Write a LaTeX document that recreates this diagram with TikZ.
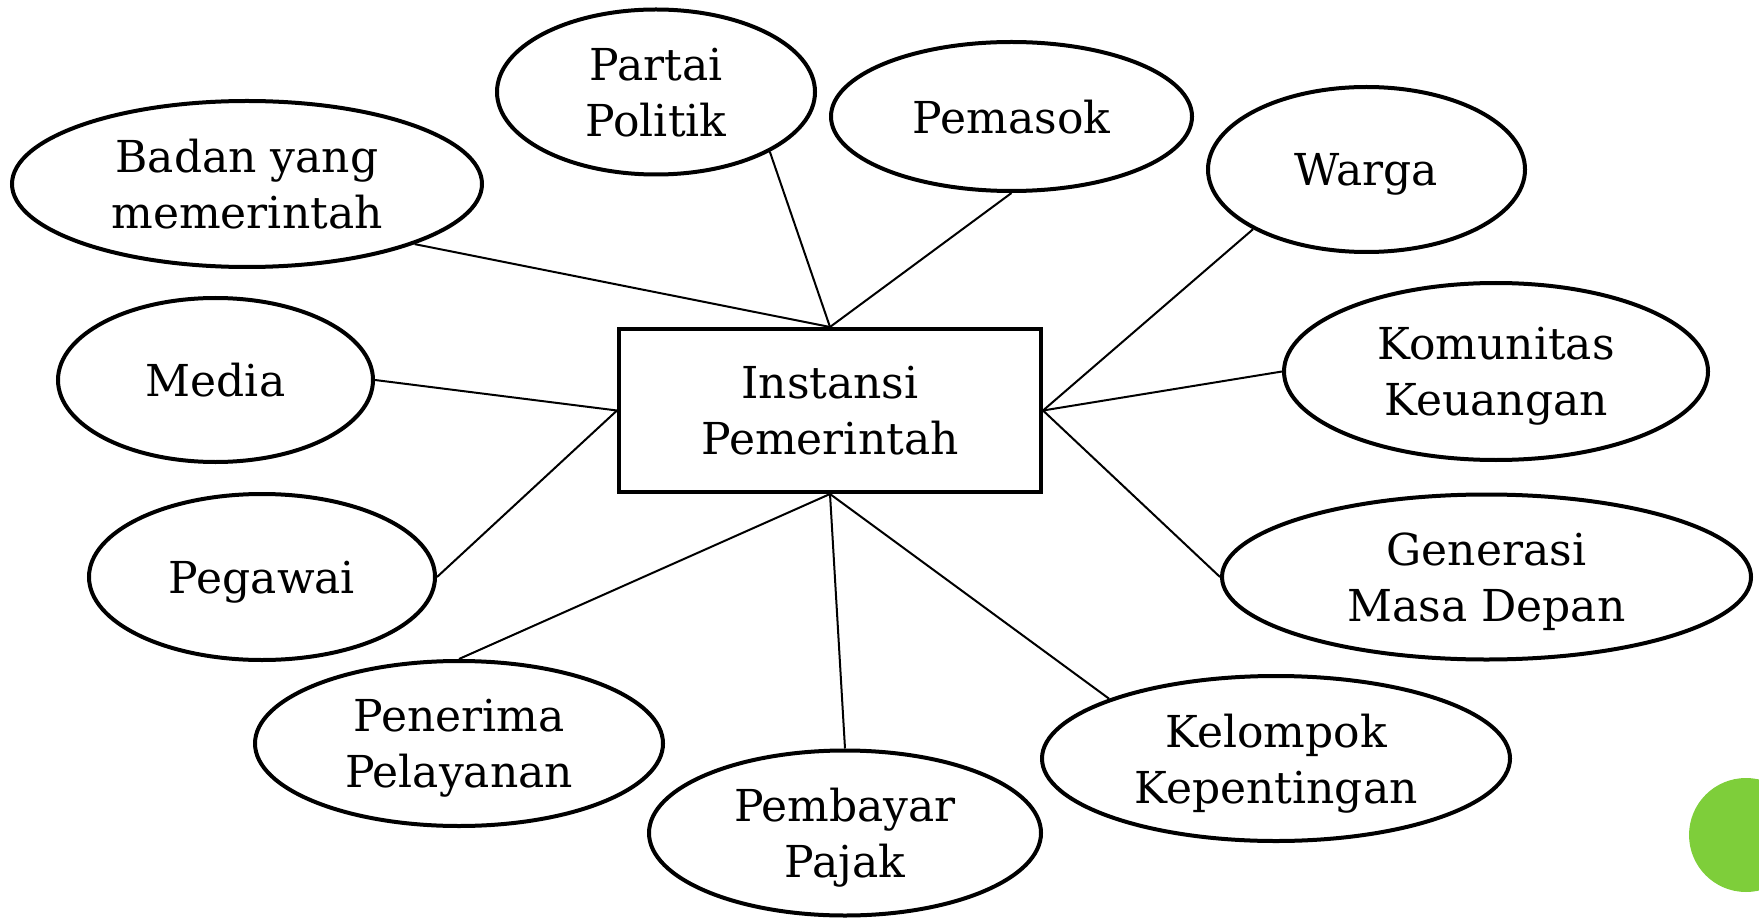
\documentclass[tikz,border=0pt]{standalone}
\usepackage{fontspec}
\setmainfont{DejaVu Serif}
\usetikzlibrary{shapes.geometric}
\definecolor{hijau}{RGB}{126,206,58}

\begin{document}
\begin{tikzpicture}[x=0.5pt, y=-0.5pt, font=\fontsize{22}{28}\selectfont,
  pihak/.style={ellipse, draw, line width=2pt, inner sep=0pt, text depth=0pt, align=center},
  pusat/.style={rectangle, draw, line width=2pt, inner sep=0pt, text depth=0pt, align=center, minimum width=211pt, minimum height=81.5pt},
  garis/.style={line width=1pt}]
        \useasboundingbox (0,0) rectangle (1759,919);
        \node[pusat] (instansi) at (830,410.5) {Instansi\\Pemerintah};
        \node[pihak, minimum width=235pt, minimum height=83pt] (badan) at (247,184) {Badan yang\\memerintah};
        \node[pihak, minimum width=159pt, minimum height=82.5pt] (partai) at (656,92) {Partai\\Politik};
        \node[pihak, minimum width=180.5pt, minimum height=74.5pt] (pemasok) at (1011.5,116.5) {Pemasok};
        \node[pihak, minimum width=158.5pt, minimum height=82.5pt] (warga) at (1366.5,169.5) {Warga};
        \node[pihak, minimum width=157.5pt, minimum height=82pt] (media) at (215.5,380) {Media};
        \node[pihak, minimum width=212pt, minimum height=88.5pt] (komunitas) at (1496,371.5) {Komunitas\\Keuangan};
        \node[pihak, minimum width=173pt, minimum height=83pt] (pegawai) at (262,577) {Pegawai};
        \node[pihak, minimum width=264.5pt, minimum height=82.5pt] (generasi) at (1486.5,577) {Generasi\\Masa Depan};
        \node[pihak, minimum width=204pt, minimum height=82.5pt] (penerima) at (459,743.5) {Penerima\\Pelayanan};
        \node[pihak, minimum width=196pt, minimum height=82.5pt] (pembayar) at (845,833) {Pembayar\\Pajak};
        \node[pihak, minimum width=234pt, minimum height=82.5pt] (kelompok) at (1276,758.5) {Kelompok\\Kepentingan};
        % garis ke instansi
        \draw[garis] (badan.south east) -- (instansi.north);
        \draw[garis] (partai.south east) -- (instansi.north);
        \draw[garis] (pemasok.south) -- (instansi.north);
        \draw[garis] (warga.south west) -- (instansi.east);
        \draw[garis] (komunitas.west) -- (instansi.east);
        \draw[garis] (generasi.west) -- (instansi.east);
        \draw[garis] (media.east) -- (instansi.west);
        \draw[garis] (pegawai.east) -- (instansi.west);
        \draw[garis] (penerima.north) -- (instansi.south);
        \draw[garis] (pembayar.north) -- (instansi.south);
        \draw[garis] (kelompok.north west) -- (instansi.south);
        \fill[hijau] (1746,835) circle[radius=28.5pt];
      \end{tikzpicture}
\end{document}
